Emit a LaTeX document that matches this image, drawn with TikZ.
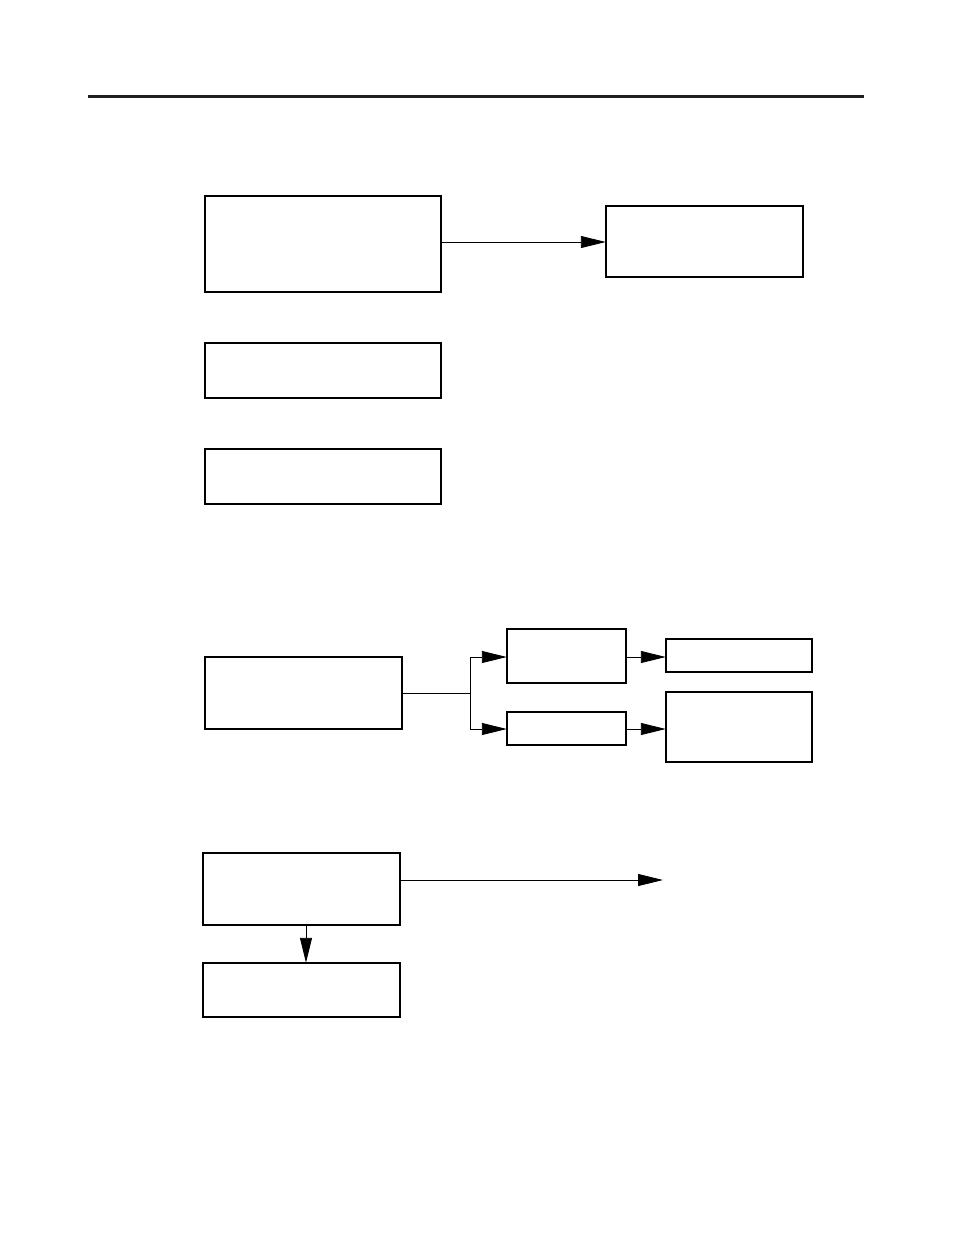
\documentclass[tikz,border=0pt]{standalone}
\usetikzlibrary{arrows.meta}
\definecolor{rulegray}{HTML}{231F20}
\begin{document}
\begin{tikzpicture}[x=1pt,y=-1pt,
  box/.style={draw=black,line width=1.8pt,fill=white},
  conn/.style={draw=black,line width=0.9pt},
  arr/.style={conn,-{Triangle[length=25pt,width=12pt]}}]
\useasboundingbox (0,0) rectangle (954,1235);
% top rule
\draw[rulegray,line width=3pt] (88,96) -- (864,96);
% boxes
\path[box] (205,196) rectangle (441,292);
\node[inner sep=0,minimum width=236pt,minimum height=96pt] (A) at (323,244) {};
\path[box] (606,206) rectangle (803,277);
\node[inner sep=0,minimum width=197pt,minimum height=71pt] (B) at (704.5,241.5) {};
\path[box] (205,343) rectangle (441,398);
\node[inner sep=0,minimum width=236pt,minimum height=55pt] (C) at (323,370.5) {};
\path[box] (205,449) rectangle (441,504);
\node[inner sep=0,minimum width=236pt,minimum height=55pt] (D) at (323,476.5) {};
\path[box] (205,657) rectangle (402,729);
\node[inner sep=0,minimum width=197pt,minimum height=72pt] (E) at (303.5,693) {};
\path[box] (507,629) rectangle (626,683);
\node[inner sep=0,minimum width=119pt,minimum height=54pt] (F) at (566.5,656) {};
\path[box] (507,712) rectangle (626,745);
\node[inner sep=0,minimum width=119pt,minimum height=33pt] (G) at (566.5,728.5) {};
\path[box] (666,639) rectangle (812,672);
\node[inner sep=0,minimum width=146pt,minimum height=33pt] (H) at (739,655.5) {};
\path[box] (666,692) rectangle (812,762);
\node[inner sep=0,minimum width=146pt,minimum height=70pt] (I) at (739,727) {};
\path[box] (203,853) rectangle (400,925);
\node[inner sep=0,minimum width=197pt,minimum height=72pt] (J) at (301.5,889) {};
\path[box] (203,963) rectangle (400,1017);
\node[inner sep=0,minimum width=197pt,minimum height=54pt] (K) at (301.5,990) {};
% connectors
\coordinate (jt) at (470,693);
\coordinate (free) at (663,880);
\draw[arr] (A.east |- 0,242) -- (B.west |- 0,242);
\draw[conn] (E.east) -- (jt);
\draw[arr] (jt) |- (F.west |- 0,657);
\draw[arr] (jt) |- (G.west |- 0,729);
\draw[arr] (F.east |- 0,657) -- (H.west |- 0,657);
\draw[arr] (G.east |- 0,729) -- (I.west |- 0,729);
\draw[arr] (J.east |- 0,880) -- (free);
\draw[arr] (J.south -| 306,0) -- (K.north -| 306,0);
\end{tikzpicture}
\end{document}
